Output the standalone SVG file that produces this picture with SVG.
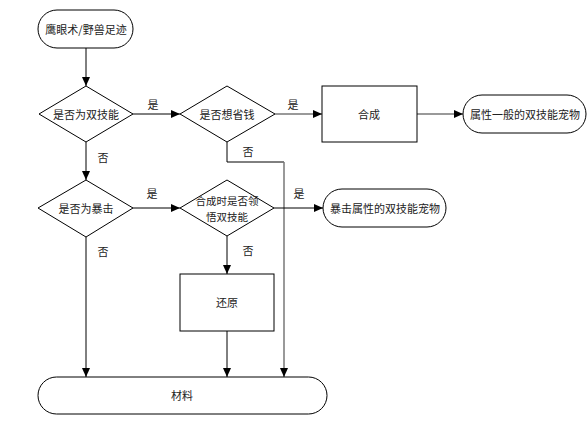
<svg xmlns="http://www.w3.org/2000/svg" width="587" height="432" viewBox="0 0 587 432">
<style>
.s{fill:#fff;stroke:#000;stroke-width:1}
.t{font-family:"Noto Sans CJK SC","Liberation Sans",sans-serif;font-size:11px;fill:#222;text-anchor:middle;dominant-baseline:central}
.t2{font-size:10.5px}
.c{fill:none;stroke:#000;stroke-width:1}
.g{fill:none;stroke:#777;stroke-width:1.5}
</style>
<defs>
<marker id="a" markerWidth="10" markerHeight="8" refX="9" refY="4" orient="auto" markerUnits="userSpaceOnUse">
<path d="M0,0 L9,4 L0,8 Z" fill="#000"/>
</marker>
</defs>
<rect width="587" height="432" fill="#fff"/>
<g id="connectors">
<path class="c" d="M86,48 V86" marker-end="url(#a)"/>
<path class="c" d="M133,114 H180" marker-end="url(#a)"/>
<path class="g" d="M275,114 H322" marker-end="url(#a)"/>
<path class="g" d="M417,114 H463" marker-end="url(#a)"/>
<path class="c" d="M227,142 V162 H284"/>
<path class="g" d="M284,162 V377" marker-end="url(#a)"/>
<path class="c" d="M86,142 V180" marker-end="url(#a)"/>
<path class="c" d="M133,208 H180" marker-end="url(#a)"/>
<path class="c" d="M274,208 H323" marker-end="url(#a)"/>
<path class="c" d="M227,236 V274" marker-end="url(#a)"/>
<path class="c" d="M227,331 V377" marker-end="url(#a)"/>
<path class="c" d="M86,237 V377" marker-end="url(#a)"/>
<text class="t" x="153" y="104">是</text>
<text class="t" x="293" y="104">是</text>
<text class="t" x="103" y="157">否</text>
<text class="t" x="248" y="151">否</text>
<text class="t" x="152" y="193">是</text>
<text class="t" x="299" y="193">是</text>
<text class="t" x="103" y="251">否</text>
<text class="t" x="248" y="250">否</text>
</g>
<g id="start">
<rect class="s" x="38" y="10" width="95" height="38" rx="19"/>
<text class="t" x="86" y="29">鹰眼术/野兽足迹</text>
</g>
<g id="d1">
<path class="s" d="M86,86 L133,114 L86,142 L39,114 Z"/>
<text class="t" x="86" y="114">是否为双技能</text>
</g>
<g id="d2">
<path class="s" d="M227,86 L275,114 L227,142 L180,114 Z"/>
<text class="t" x="227" y="114">是否想省钱</text>
</g>
<g id="hecheng">
<rect class="s" x="322" y="86" width="95" height="56"/>
<text class="t" x="369" y="114">合成</text>
</g>
<g id="out1">
<rect class="s" x="463" y="95" width="123" height="38" rx="19"/>
<text class="t" x="525" y="114">属性一般的双技能宠物</text>
</g>
<g id="d3">
<path class="s" d="M86,180 L133,208 L86,237 L38,208 Z"/>
<text class="t" x="86" y="208">是否为暴击</text>
</g>
<g id="d4">
<path class="s" d="M227,180 L274,208 L227,236 L180,208 Z"/>
<text class="t t2" x="227" y="200.5">合成时是否领</text>
<text class="t t2" x="227" y="216">悟双技能</text>
</g>
<g id="out2">
<rect class="s" x="323" y="189" width="123" height="38" rx="19"/>
<text class="t" x="385" y="208">暴击属性的双技能宠物</text>
</g>
<g id="huanyuan">
<rect class="s" x="180" y="274" width="94" height="57"/>
<text class="t" x="227" y="302">还原</text>
</g>
<g id="cailiao">
<rect class="s" x="38" y="377" width="289" height="37" rx="18.5"/>
<text class="t" x="182" y="395">材料</text>
</g>
</svg>
